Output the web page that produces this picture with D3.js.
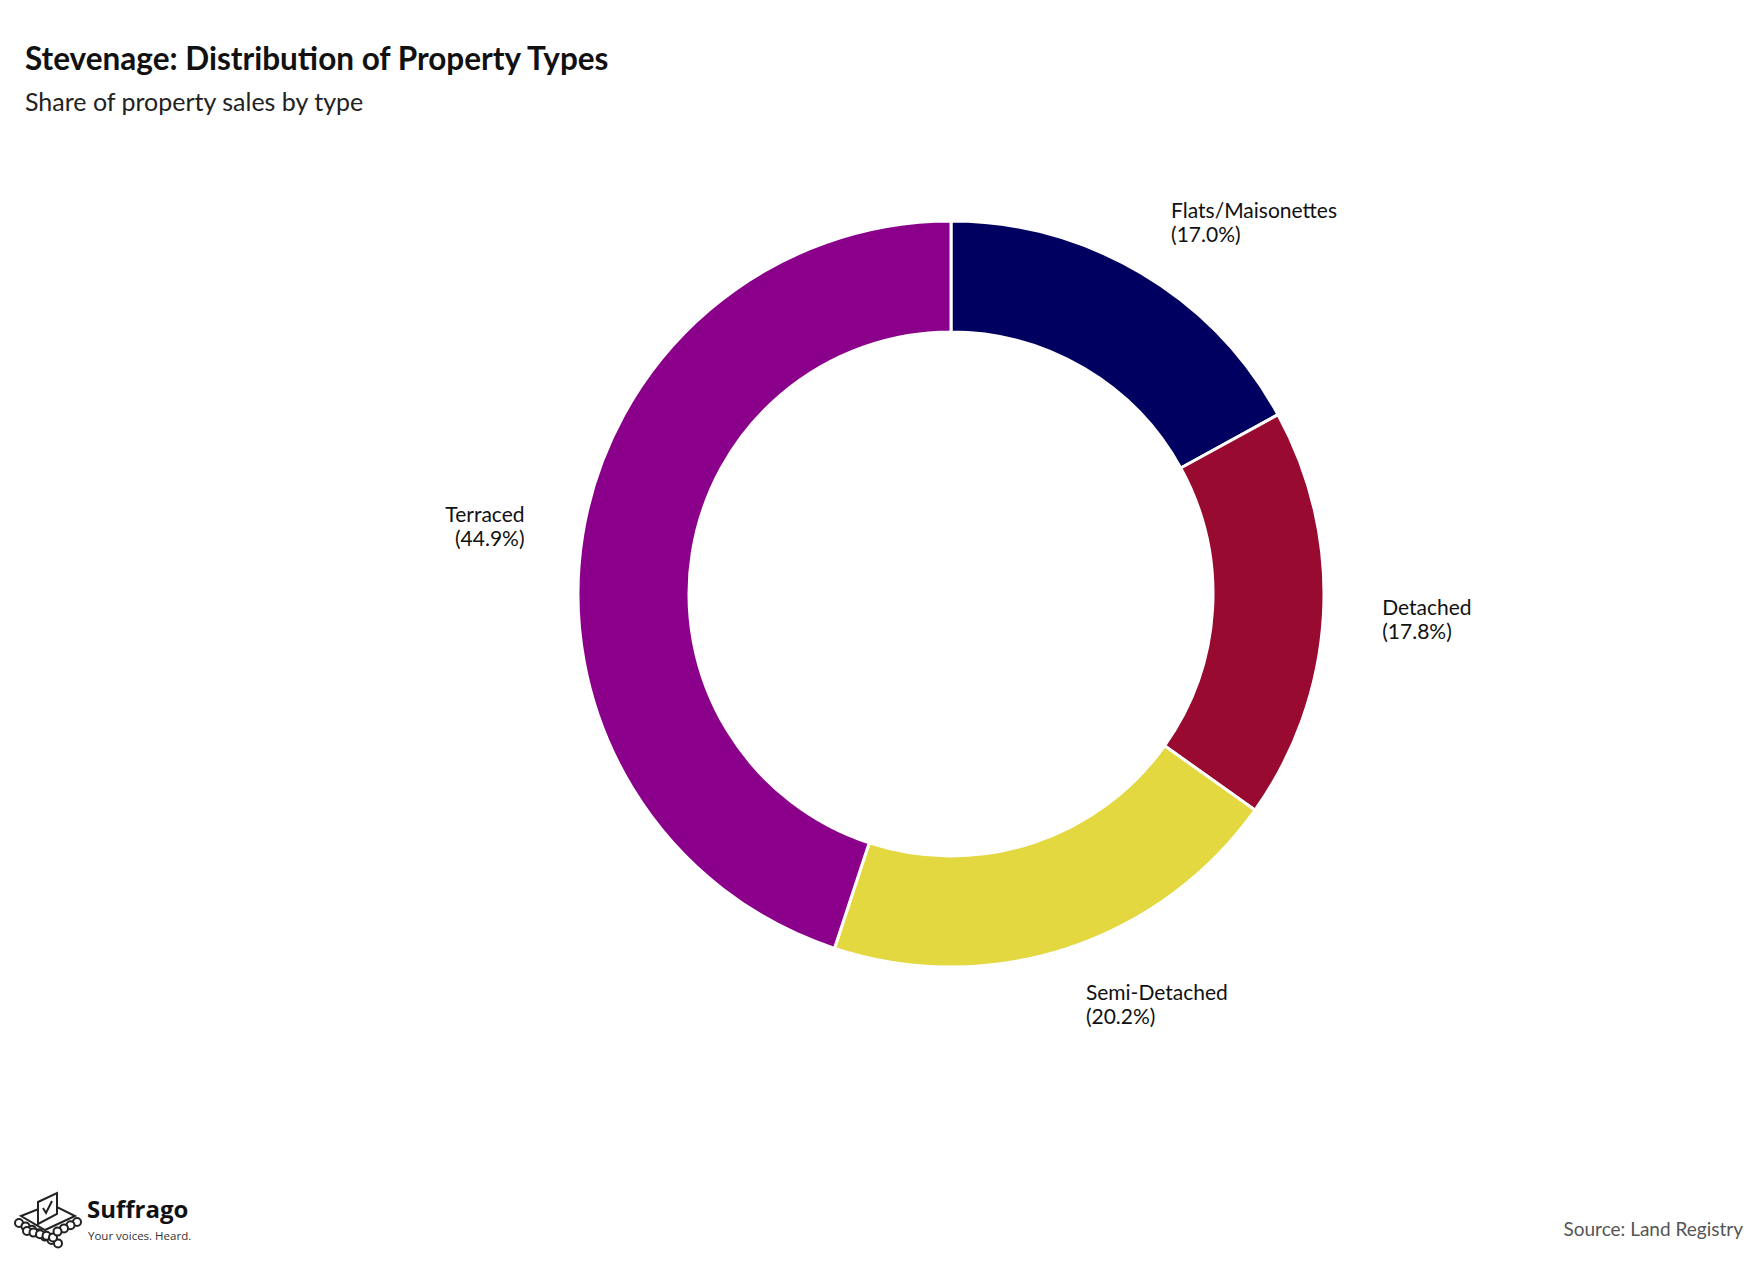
<!DOCTYPE html>
<html><head><meta charset="utf-8">
<script src="https://cdn.jsdelivr.net/npm/d3@7"></script>
<style>body{margin:0;background:#fff;font-family:Lato,sans-serif}</style>
</head><body><svg id="c" width="1758" height="1265"></svg>
<script>
const categories = ["Flats/Maisonettes","Detached","Semi-Detached","Terraced"];
const values = [17.0,17.8,20.2,44.9];
const colors = ["#000060","#990A30","#E3D840","#8B008B"];

const svg = d3.select("#c");
svg.append("text").attr("x",25).attr("y",70).attr("font-size",31.5).attr("font-weight","bold").attr("fill","#111").text("Stevenage: Distribution of Property Types");
svg.append("text").attr("x",25).attr("y",111).attr("font-size",25).attr("fill","#222").text("Share of property sales by type");

const cx=951, cy=594, R=373, r=262;
const pie = d3.pie().sort(null).value(d=>d)(values);
const arc = d3.arc().innerRadius(r).outerRadius(R);
const g = svg.append("g").attr("transform",`translate(${cx},${cy})`);
g.selectAll("path").data(pie).join("path").attr("d",arc)
 .attr("fill",(d,i)=>colors[i]).attr("stroke","#fff").attr("stroke-width",3);
const lab = d3.arc().innerRadius(R*1.158).outerRadius(R*1.158);
pie.forEach((d,i)=>{
  const [x,y]=lab.centroid(d);
  const mid=(d.startAngle+d.endAngle)/2;
  const t=g.append("text").attr("font-size",21).attr("fill","#111")
   .attr("text-anchor", mid>Math.PI?"end":"start")
   .attr("transform",`translate(${x},${y})`);
  t.append("tspan").attr("x",0).attr("dy","-0.2em").text(categories[i]);
  t.append("tspan").attr("x",0).attr("dy","1.15em").text(`(${values[i].toFixed(1)}%)`);
});

svg.append("text").attr("x",1743).attr("y",1236).attr("text-anchor","end").attr("font-size",19).attr("fill","#555").text("Source: Land Registry");

// logo
const L = svg.append("g").attr("transform","translate(15,1188)").attr("fill","none").attr("stroke","#222").attr("stroke-width",2);
L.append("path").attr("d","M6,28 L36,16 L60,28 L30,42 Z").attr("fill","#fff");
L.append("path").attr("d","M23,36 L23,14 L42,5 L42,26 Z").attr("fill","#fff");
L.append("path").attr("d","M28,20 L31,25 L37,13");
for(let k=0;k<7;k++){L.append("circle").attr("cx",4+k*6.5).attr("cy",35+k*3.4).attr("r",4).attr("fill","#fff");}
for(let k=0;k<5;k++){L.append("circle").attr("cx",12+k*6.5).attr("cy",43+k*1.6).attr("r",4).attr("fill","#fff");}
for(let k=0;k<4;k++){L.append("circle").attr("cx",62-k*6.5).attr("cy",34+k*3.2).attr("r",4).attr("fill","#fff");}
svg.append("text").attr("x",87).attr("y",1218).attr("font-family","'Open Sans',sans-serif").attr("font-weight","bold").attr("font-size",24).attr("fill","#111").text("Suffrago");
svg.append("text").attr("x",88).attr("y",1240).attr("font-family","'Open Sans',sans-serif").attr("font-size",11.5).attr("fill","#333").text("Your voices. Heard.");
</script></body></html>
